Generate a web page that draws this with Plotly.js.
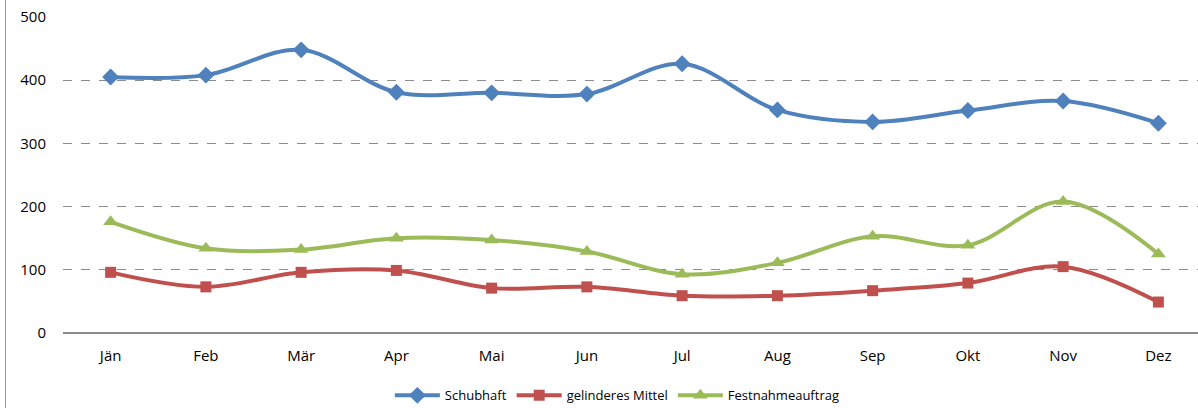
<!DOCTYPE html>
<html>
<head>
<meta charset="utf-8">
<script src="https://cdn.plot.ly/plotly-3.0.1.min.js"></script>
<style>
  html, body { margin: 0; padding: 0; overflow: hidden; background: #fff; }
  #chart { position: absolute; left: 0; top: 0; width: 1206px; height: 408px; }
  #frame { position: absolute; left: 5px; top: 0; width: 1px; height: 408px; background: #9a9a9a; }
</style>
</head>
<body>
<div id="chart"></div>
<div id="frame"></div>
<script>
const months = ["Jän", "Feb", "Mär", "Apr", "Mai", "Jun", "Jul", "Aug", "Sep", "Okt", "Nov", "Dez"];
const schubhaft = [405, 408, 448, 381, 380, 378, 426, 353, 334, 352, 367, 332];
const gelinderesMittel = [96, 73, 96, 99, 71, 73, 59, 59, 67, 79, 105, 49];
const festnahmeauftrag = [176, 134, 132, 150, 147, 129, 93, 111, 153, 139, 208, 125];

const font = "Open Sans, Liberation Sans, sans-serif";

function series(name, y, color, symbol, size) {
  return {
    x: months,
    y: y,
    name: name,
    type: "scatter",
    mode: "lines+markers",
    line: { color: color, width: 4, shape: "spline", smoothing: 1 },
    marker: { color: color, symbol: symbol, size: size },
  };
}

const data = [
  series("Schubhaft", schubhaft, "#4F81BD", "diamond", 13),
  series("gelinderes Mittel", gelinderesMittel, "#C0504D", "square", 11),
  series("Festnahmeauftrag", festnahmeauftrag, "#9BBB59", "triangle-up", 13),
];

const layout = {
  width: 1206,
  height: 408,
  margin: { l: 63, r: 0, t: 17, b: 75, autoexpand: false },
  paper_bgcolor: "#fff",
  plot_bgcolor: "#fff",
  font: { family: font, size: 15, color: "#000" },
  showlegend: true,
  legend: {
    orientation: "h",
    x: 0.485,
    xanchor: "center",
    y: -0.15,
    yanchor: "top",
    font: { family: font, size: 13, color: "#000" },
    itemwidth: 45,
    tracegroupgap: 0,
  },
  xaxis: {
    type: "category",
    range: [-0.5, 11.5],
    showgrid: false,
    showline: false,
    zeroline: false,
    ticks: "",
    ticklabelstandoff: 12,
    tickfont: { size: 15 },
  },
  yaxis: {
    range: [0, 500],
    dtick: 100,
    showgrid: true,
    gridcolor: "#8c8c8c",
    griddash: "dash",
    gridwidth: 1,
    zeroline: true,
    zerolinecolor: "#8c8c8c",
    zerolinewidth: 1.5,
    showline: false,
    ticks: "",
    ticklabelstandoff: 16,
    tickfont: { size: 15 },
  },
};

Plotly.newPlot("chart", data, layout, { displayModeBar: false, staticPlot: true });
</script>
</body>
</html>
